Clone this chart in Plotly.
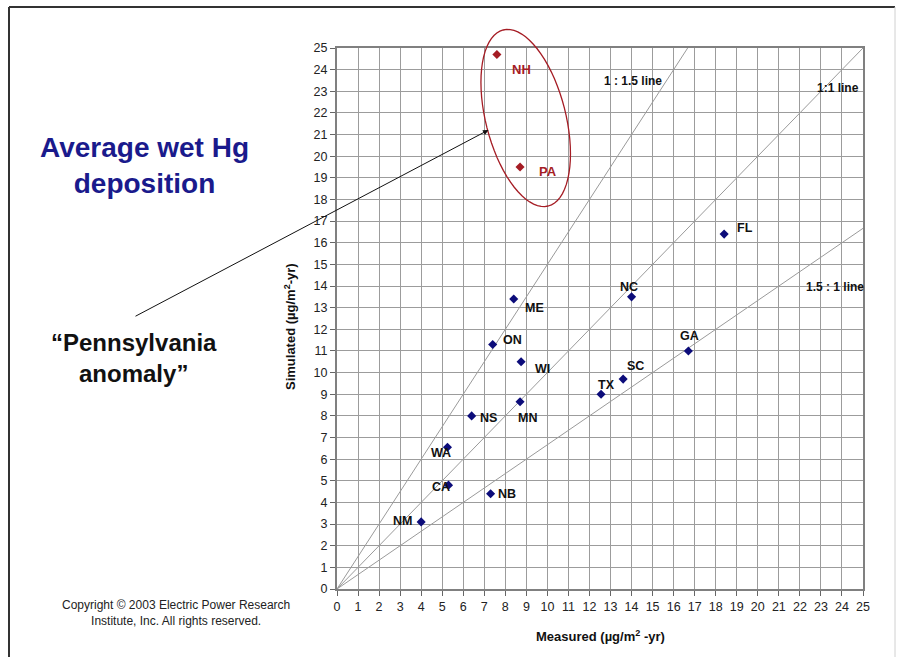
import numpy as np
import plotly.graph_objects as go

# ---- data ----
sites = ["NM", "CA", "WA", "NS", "NB", "ON", "ME", "WI", "MN", "TX", "SC", "NC", "GA", "FL"]
measured = [4.0, 5.3, 5.25, 6.4, 7.3, 7.4, 8.4, 8.75, 8.7, 12.55, 13.6, 14.0, 16.7, 18.4]
simulated = [3.1, 4.8, 6.55, 8.0, 4.4, 11.3, 13.4, 10.5, 8.65, 9.0, 9.7, 13.5, 11.0, 16.4]

anomaly_sites = ["NH", "PA"]
anomaly_measured = [7.6, 8.7]
anomaly_simulated = [24.7, 19.5]

ratio_names = ["1 : 1.5 line", "1:1 line", "1.5 : 1 line"]
ratio_slopes = [1.5, 1.0, 1 / 1.5]
axis_max = 25
ticks = list(range(0, 26))

# ---- layout geometry (pixels) ----
W, H = 901, 657
ML, MR, MT, MB = 337, 38, 48, 68
PW, PH = W - ML - MR, H - MT - MB


def px(xp):
    return (xp - ML) / PW


def py(yp):
    return (H - MB - yp) / PH


FONT = "Arial, Liberation Sans, sans-serif"

# label offsets in pixels (dx right, dy up)
label_off = {
    "NM": (-19, 1), "CA": (-8, -2), "WA": (-6, -6), "NS": (17, -2), "NB": (16, 0),
    "ON": (20, 4), "ME": (21, -9), "WI": (21, -7), "MN": (7, -16), "TX": (5, 9),
    "SC": (12, 13), "NC": (-3, 10), "GA": (1, 15), "FL": (21, 6),
    "NH": (25, -15), "PA": (28, -4),
}

fig = go.Figure()

# ratio lines
for name, s in zip(ratio_names, ratio_slopes):
    xe = min(axis_max, axis_max / s)
    fig.add_trace(go.Scatter(x=[0, xe], y=[0, xe * s], mode="lines",
                             line=dict(color="#9a9a9a", width=1),
                             hoverinfo="skip", showlegend=False))

fig.add_trace(go.Scatter(x=measured, y=simulated, mode="markers", text=sites,
                         marker=dict(symbol="diamond", size=7, color="#0c0c7a"),
                         showlegend=False))
fig.add_trace(go.Scatter(x=anomaly_measured, y=anomaly_simulated, mode="markers",
                         text=anomaly_sites,
                         marker=dict(symbol="diamond", size=7, color="#a51c24"),
                         showlegend=False))

ann = []
lab_font = dict(family=FONT, size=12.5, color="#111111")
for s, xv, yv in zip(sites, measured, simulated):
    dx, dy = label_off[s]
    ann.append(dict(x=xv, y=yv, text="<b>%s</b>" % s, showarrow=False,
                    xanchor="center", yanchor="middle",
                    xshift=dx, yshift=dy, font=lab_font))
for s, xv, yv in zip(anomaly_sites, anomaly_measured, anomaly_simulated):
    dx, dy = label_off[s]
    ann.append(dict(x=xv, y=yv, text="<b>%s</b>" % s, showarrow=False,
                    xanchor="center", yanchor="middle",
                    xshift=dx, yshift=dy,
                    font=dict(family=FONT, size=13, color="#a51c24")))


def text_ann(xp, yp, text, font, **kw):
    d = dict(x=px(xp), y=py(yp), xref="paper", yref="paper", text=text,
             showarrow=False, xanchor="center", yanchor="middle", font=font)
    d.update(kw)
    return d


# ratio line labels
line_label_pos = [(633, 81), (838, 88), (835, 287)]
for name, (lx, ly) in zip(ratio_names, line_label_pos):
    ann.append(text_ann(lx, ly, "<b>%s</b>" % name, dict(family=FONT, size=12, color="#111111")))

# titles / texts
ann.append(text_ann(144, 165.5, "<b>Average wet Hg<br>deposition</b>",
                    dict(family=FONT, size=28, color="#1a1a8c")))
ann.append(text_ann(134, 357.5, "<b>\u201cPennsylvania<br>anomaly\u201d</b>",
                    dict(family=FONT, size=24, color="#111111")))
ann.append(text_ann(176, 613,
                    "Copyright \u00a9 2003 Electric Power Research<br>Institute, Inc. All rights reserved.",
                    dict(family=FONT, size=12, color="#222222")))
ann.append(text_ann(600, 636, "<b>Measured (\u00b5g/m<sup>2</sup> -yr)</b>",
                    dict(family=FONT, size=13, color="#111111")))
ann.append(text_ann(290, 327, "<b>Simulated (\u00b5g/m<sup>2</sup>-yr)</b>",
                    dict(family=FONT, size=13, color="#111111"), textangle=-90))

# arrow
ann.append(dict(x=px(488.5), y=py(130), xref="paper", yref="paper",
                ax=134 - 488.5, ay=317 - 130, axref="pixel", ayref="pixel",
                text="", showarrow=True, arrowhead=2, arrowsize=1.1, arrowwidth=1,
                arrowcolor="#111111"))

# ellipse around anomaly (pixel-space ellipse converted to paper)
cx, cy = 525.7, 118.0
a_vec = np.array([22.5, 88.0])
b_vec = np.array([38.7, -9.9])
t = np.linspace(0, 2 * np.pi, 73)
ex = cx + a_vec[0] * np.cos(t) + b_vec[0] * np.sin(t)
ey = cy + a_vec[1] * np.cos(t) + b_vec[1] * np.sin(t)
path = "M " + " L ".join("%.5f,%.5f" % (px(u), py(v)) for u, v in zip(ex, ey)) + " Z"

shapes = [
    dict(type="path", path=path, xref="paper", yref="paper",
         line=dict(color="#a51c24", width=1.3)),
    # frame
    dict(type="line", xref="paper", yref="paper", x0=px(9), x1=px(9), y0=py(7), y1=py(657),
         line=dict(color="#333333", width=2)),
    dict(type="line", xref="paper", yref="paper", x0=px(9), x1=px(895), y0=py(7), y1=py(7),
         line=dict(color="#333333", width=2)),
    dict(type="line", xref="paper", yref="paper", x0=px(895), x1=px(895), y0=py(7), y1=py(657),
         line=dict(color="#d0d0d0", width=1)),
]

axis_common = dict(range=[0, axis_max], tickmode="array", tickvals=ticks,
                   ticktext=[str(v) for v in ticks],
                   showgrid=True, gridcolor="#9c9c9c", gridwidth=1,
                   showline=True, linecolor="#808080", linewidth=2, mirror=True,
                   ticks="outside", ticklen=5, tickcolor="#666666",
                   zeroline=False, fixedrange=True,
                   tickfont=dict(family=FONT, size=12.5, color="#222222"))

fig.update_layout(
    width=W, height=H,
    margin=dict(l=ML, r=MR, t=MT, b=MB, pad=0),
    paper_bgcolor="white", plot_bgcolor="white",
    xaxis=axis_common, yaxis=axis_common,
    annotations=ann, shapes=shapes,
    showlegend=False,
)

fig.write_html("out.html", config={"displayModeBar": False},
               post_script="document.body.style.margin='0';document.body.style.overflow='hidden';")
